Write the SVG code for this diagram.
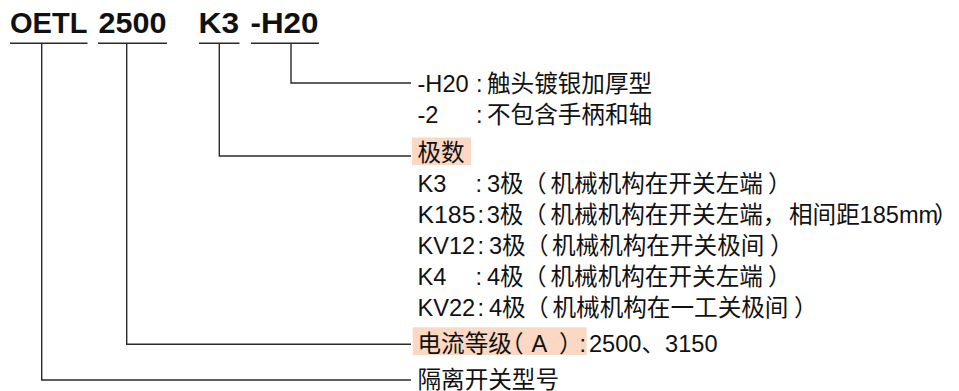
<svg xmlns="http://www.w3.org/2000/svg" width="959" height="391" viewBox="0 0 959 391">
<style>
.code{font-family:"Liberation Sans",Arial,sans-serif;font-weight:bold;font-size:29px;fill:#111}
.t{font-family:"Liberation Sans","Noto Sans CJK SC",sans-serif;font-size:23.6px;fill:#111}
.ul,.conn{stroke:#2a2a2a;stroke-width:1.4;fill:none}
.hl{fill:#FAD8C4}
</style>
<rect width="959" height="391" fill="#ffffff"/>
<g id="code-OETL">
<text class="code" x="10" y="32.5" textLength="77.5" lengthAdjust="spacingAndGlyphs">OETL</text>
<line class="ul" x1="10" y1="43.3" x2="87.5" y2="43.3"/>
</g>
<g id="code-2500">
<text class="code" x="98.5" y="32.5" textLength="68" lengthAdjust="spacingAndGlyphs">2500</text>
<line class="ul" x1="98" y1="43.3" x2="167" y2="43.3"/>
</g>
<g id="code-K3">
<text class="code" x="198.5" y="32.5" textLength="40.5" lengthAdjust="spacingAndGlyphs">K3</text>
<line class="ul" x1="199" y1="43.3" x2="239.5" y2="43.3"/>
</g>
<g id="code-H20">
<text class="code" x="250.5" y="32.5" textLength="68" lengthAdjust="spacingAndGlyphs">-H20</text>
<line class="ul" x1="251" y1="43.3" x2="319" y2="43.3"/>
</g>
<g id="connectors">
<path class="conn" d="M291 43.3V83H411"/>
<path class="conn" d="M219.3 43.3V156H411"/>
<path class="conn" d="M126.7 43.3V344.3H411"/>
<path class="conn" d="M41.7 43.3V380H411"/>
</g>
<g id="desc-H20">
<text class="t" y="92"><tspan x="417.5">-H20</tspan><tspan x="476">:</tspan><tspan x="487">触头镀银加厚型</tspan></text>
<text class="t" y="123.3"><tspan x="417.5">-2</tspan><tspan x="476">:</tspan><tspan x="487">不包含手柄和轴</tspan></text>
</g>
<g id="desc-poles">
<rect class="hl" x="412" y="137.5" width="59" height="27.5"/>
<text class="t" x="417.5" y="160.5">极数</text>
<text class="t" y="191.5"><tspan x="417.5">K3</tspan><tspan x="475.5">:</tspan><tspan x="487">3极</tspan><tspan x="523">（</tspan><tspan x="550.5">机械机构在开关左端</tspan><tspan x="768">）</tspan></text>
<text class="t" y="222.5"><tspan x="417.5" textLength="58" lengthAdjust="spacingAndGlyphs">K185</tspan><tspan x="477.5">:</tspan><tspan x="486.7">3极</tspan><tspan x="523">（</tspan><tspan x="550.5">机械机构在开关左端，</tspan><tspan x="789">相间距</tspan><tspan x="859.5" dx="0 0 0 0 0 -4">185mm）</tspan></text>
<text class="t" y="253.8"><tspan x="417.5">KV12</tspan><tspan x="477.5">:</tspan><tspan x="489">3极</tspan><tspan x="525">（</tspan><tspan x="552">机械机构在开关极间</tspan><tspan x="770">）</tspan></text>
<text class="t" y="285"><tspan x="417.5">K4</tspan><tspan x="475.5">:</tspan><tspan x="487">4极</tspan><tspan x="523">（</tspan><tspan x="550.5">机械机构在开关左端</tspan><tspan x="768">）</tspan></text>
<text class="t" y="316.3"><tspan x="417.5">KV22</tspan><tspan x="477.5">:</tspan><tspan x="489">4极</tspan><tspan x="525">（</tspan><tspan x="552.5">机械机构在一工关极间</tspan><tspan x="794">）</tspan></text>
</g>
<g id="desc-current">
<rect class="hl" x="412.7" y="327.3" width="174" height="27.7"/>
<text class="t" x="417.5" y="352" dx="0 0 0 0 -11.9 7.9 11.8 -3.1 2.9">电流等级（A）:2500、3150</text>
</g>
<g id="desc-type">
<text class="t" x="417.5" y="387.5">隔离开关型号</text>
</g>
</svg>
